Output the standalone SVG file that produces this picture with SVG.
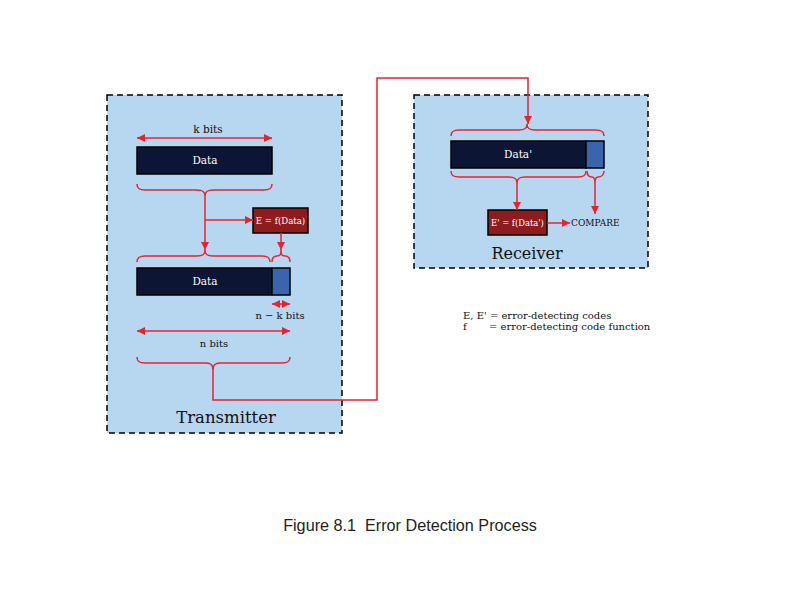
<svg xmlns="http://www.w3.org/2000/svg" width="792" height="612" viewBox="0 0 792 612">
<defs>
<marker id="ah" viewBox="0 0 10 10" refX="10" refY="5" markerWidth="9" markerHeight="8" markerUnits="userSpaceOnUse" orient="auto-start-reverse">
<path d="M0,0 L10,5 L0,10 Z" fill="#e8232f"/>
</marker>
</defs>
<style>
.panel{fill:#b7d6f0;stroke:#000;stroke-width:1.5;stroke-dasharray:6 4}
.red{fill:none;stroke:#e8232f;stroke-width:1.5}
.arr{fill:none;stroke:#e8232f;stroke-width:1.5;marker-end:url(#ah)}
.dbl{fill:none;stroke:#e8232f;stroke-width:1.5;marker-start:url(#ah);marker-end:url(#ah)}
.navy{fill:#0d1535;stroke:#000;stroke-width:1.5}
.blue{fill:#3a64ab;stroke:#000;stroke-width:1.5}
.dred{fill:#8e1b1e;stroke:#000;stroke-width:1.5}
.t{font-family:"DejaVu Serif","Liberation Serif",serif;fill:#111}
.w{font-family:"DejaVu Serif","Liberation Serif",serif;fill:#fff}
</style>
<rect width="792" height="612" fill="#fff"/>

<g id="transmitter">
<rect class="panel" x="107" y="95" width="235" height="338"/>
<text class="t" x="226" y="423" font-size="16.5" text-anchor="middle">Transmitter</text>
</g>

<g id="receiver">
<rect class="panel" x="414" y="95" width="234" height="173"/>
<text class="t" x="527" y="259" font-size="16" text-anchor="middle">Receiver</text>
</g>

<g id="k-bits">
<line class="dbl" x1="137" y1="138" x2="272" y2="138"/>
<text class="t" x="208" y="133" font-size="10.5" text-anchor="middle">k bits</text>
</g>

<g id="data-tx">
<rect class="navy" x="137" y="147" width="135" height="27"/>
<text class="w" x="205" y="164" font-size="10.5" text-anchor="middle">Data</text>
</g>

<g id="e-box">
<rect class="dred" x="253" y="208" width="55" height="25"/>
<text class="w" x="280.5" y="224" font-size="8.6" text-anchor="middle">E = f(Data)</text>
</g>

<g id="data-n">
<rect class="navy" x="137" y="268" width="135" height="27"/>
<rect class="blue" x="272" y="268" width="18" height="27"/>
<text class="w" x="205" y="285" font-size="10.5" text-anchor="middle">Data</text>
</g>

<g id="n-k-bits">
<line class="dbl" x1="272" y1="304" x2="290" y2="304"/>
<text class="t" x="280" y="319" font-size="10" text-anchor="middle">n − k bits</text>
</g>

<g id="n-bits">
<line class="dbl" x1="137" y1="331" x2="290" y2="331"/>
<text class="t" x="214" y="347" font-size="10" text-anchor="middle">n bits</text>
</g>

<g id="data-rx">
<rect class="navy" x="451" y="141" width="135" height="27"/>
<rect class="blue" x="586" y="141" width="18" height="27"/>
<text class="w" x="518" y="158" font-size="10.5" text-anchor="middle">Data'</text>
</g>

<g id="e-prime-box">
<rect class="dred" x="488" y="210" width="59" height="25"/>
<text class="w" x="517.5" y="226" font-size="8.4" text-anchor="middle">E' = f(Data')</text>
</g>

<g id="compare">
<text class="t" x="571" y="226" font-size="9">COMPARE</text>
</g>

<g id="legend">
<text class="t" x="463" y="319" font-size="10">E, E' = error-detecting codes</text>
<text class="t" x="463" y="330" font-size="10">f<tspan x="489">= error-detecting code function</tspan></text>
</g>

<g id="caption">
<text x="410" y="531" font-family="'Liberation Sans',Arial,sans-serif" font-size="16.2" fill="#231f20" text-anchor="middle" xml:space="preserve">Figure 8.1  Error Detection Process</text>
</g>

<g id="connectors">
<path class="red" d="M137,184 C137,189 140,190 145,190 L197,190 C202,190 205,191 205,196 C205,191 208,190 213,190 L264,190 C269,190 272,189 272,184"/>
<path class="red" d="M137,262 C137,257 140,256 145,256 L197,256 C202,256 205,255 205,250 C205,255 208,256 213,256 L262,256 C267,256 270,257 270,262"/>
<path class="red" d="M272,262 C272,258 274,256 277,256 C280,256 281,255 281,250 C281,255 282,256 285,256 C288,256 290,258 290,262"/>
<path class="red" d="M137,357 C137,362 140,363 145,363 L205,363 C210,363 213,364 213,370 C213,364 216,363 221,363 L282,363 C287,363 290,362 290,357"/>
<path class="red" d="M451,136 C451,131 454,130 459,130 L519,130 C524,130 527,129 527,124 C527,129 530,130 535,130 L596,130 C601,130 604,131 604,136"/>
<path class="red" d="M451,171 C451,176 454,177 459,177 L509,177 C514,177 517,178 517,183 C517,178 520,177 525,177 L578,177 C583,177 586,176 586,171"/>
<path class="red" d="M587,171 C587,175 589,177 592,177 C594,177 595,178 595,183 C595,178 596,177 598,177 C601,177 604,175 604,171"/>
<line class="arr" x1="205" y1="196" x2="205" y2="250"/>
<line class="arr" x1="205" y1="220" x2="253" y2="220"/>
<line class="arr" x1="281" y1="233" x2="281" y2="250"/>
<path class="arr" d="M213,370 V400 H377 V78 H528 V124"/>
<line class="arr" x1="517" y1="183" x2="517" y2="210"/>
<line class="arr" x1="595" y1="183" x2="595" y2="214"/>
<line class="arr" x1="547" y1="223" x2="570" y2="223"/>
</g>
</svg>
